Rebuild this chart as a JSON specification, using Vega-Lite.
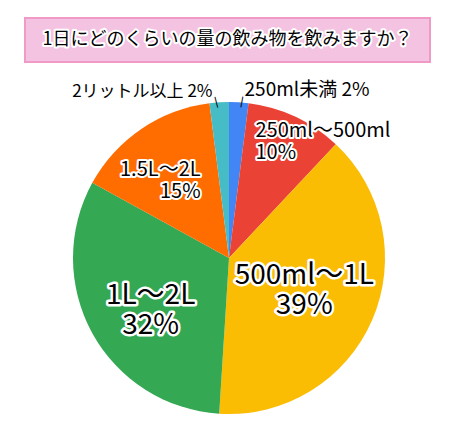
{
  "$schema": "https://vega.github.io/schema/vega-lite/v6.json",
  "padding": {"left": 24, "top": 17, "right": 0, "bottom": 0},
  "bounds": "flush",
  "spacing": 30,
  "config": {
    "view": {"stroke": null},
    "text": {"font": "Noto Sans CJK JP"}
  },
  "vconcat": [
    {
      "width": 405,
      "height": 44,
      "view": {"fill": "#f4c3e1", "stroke": "#f09ac7", "strokeWidth": 2},
      "data": {"values": [{"title": "1日にどのくらいの量の飲み物を飲みますか？"}]},
      "layer": [
        {
          "mark": {"type": "text", "fontSize": 18, "stroke": "white", "strokeWidth": 4, "strokeJoin": "round", "fill": "white", "dx": 0},
          "encoding": {"text": {"field": "title"}}
        },
        {
          "mark": {"type": "text", "fontSize": 18, "fill": "black", "dx": 0},
          "encoding": {"text": {"field": "title"}}
        }
      ]
    },
    {
      "width": 408,
      "height": 332,
      "data": {
        "values": [
          {"category": "250ml未満", "percent": 2, "rank": 1},
          {"category": "250ml～500ml", "percent": 10, "rank": 2},
          {"category": "500ml～1L", "percent": 39, "rank": 3},
          {"category": "1L～2L", "percent": 32, "rank": 4},
          {"category": "1.5L～2L", "percent": 15, "rank": 5},
          {"category": "2リットル以上", "percent": 2, "rank": 6}
        ]
      },
      "encoding": {
        "theta": {"field": "percent", "type": "quantitative", "stack": true},
        "order": {"field": "rank", "type": "quantitative"},
        "detail": {"field": "category", "type": "nominal"}
      },
      "layer": [
        {
          "mark": {"type": "arc", "outerRadius": 156},
          "encoding": {
            "color": {
              "field": "category",
              "type": "nominal",
              "scale": {
                "domain": ["250ml未満", "250ml～500ml", "500ml～1L", "1L～2L", "1.5L～2L", "2リットル以上"],
                "range": ["#4285f4", "#ea4335", "#fbbc04", "#34a853", "#ff6d01", "#46bdc6"]
              },
              "legend": null
            }
          }
        },
        {
          "transform": [{"calculate": "datum.category == '2リットル以上' ? '|' : ''", "as": "t"}],
          "mark": {"type": "text", "font": "DejaVu Sans", "fontSize": 11, "radius": 157, "dx": -3, "angle": -15, "fill": "black"},
          "encoding": {"text": {"field": "t"}}
        },
        {
          "transform": [{"calculate": "datum.category == '250ml未満' ? '|' : ''", "as": "t"}],
          "mark": {"type": "text", "font": "DejaVu Sans", "fontSize": 11, "radius": 157, "dx": 3, "angle": 10, "fill": "black"},
          "encoding": {"text": {"field": "t"}}
        },
        {
          "transform": [{"calculate": "datum.category == '2リットル以上' ? datum.category + ' ' + datum.percent + '%' : ''", "as": "t"}],
          "mark": {"type": "text", "fontSize": 17, "radius": 167, "dx": -6, "dy": 1, "align": "right", "fill": "black"},
          "encoding": {"text": {"field": "t"}}
        },
        {
          "transform": [{"calculate": "datum.category == '250ml未満' ? datum.category + ' ' + datum.percent + '%' : ''", "as": "t"}],
          "mark": {"type": "text", "fontSize": 19, "radius": 168, "dx": 5, "align": "left", "fill": "black"},
          "encoding": {"text": {"field": "t"}}
        },
        {
          "transform": [{"calculate": "datum.category == '250ml～500ml' ? datum.category + '\\n' + datum.percent + '%' : ''", "as": "t"}],
          "mark": {"type": "text", "fontSize": 20, "lineHeight": 22, "lineBreak": "\n", "radius": 128, "dx": -28, "dy": -11, "align": "left", "stroke": "white", "strokeWidth": 4, "strokeJoin": "round", "fill": "white"},
          "encoding": {"text": {"field": "t"}}
        },
        {
          "transform": [{"calculate": "datum.category == '250ml～500ml' ? datum.category + '\\n' + datum.percent + '%' : ''", "as": "t"}],
          "mark": {"type": "text", "fontSize": 20, "lineHeight": 22, "lineBreak": "\n", "radius": 128, "dx": -28, "dy": -11, "align": "left", "fill": "black"},
          "encoding": {"text": {"field": "t"}}
        },
        {
          "transform": [{"calculate": "datum.category == '1.5L～2L' ? datum.category + '\\n' + datum.percent + '%' : ''", "as": "t"}],
          "mark": {"type": "text", "fontSize": 20, "lineHeight": 22, "lineBreak": "\n", "radius": 95, "dx": 25, "dy": -9, "align": "right", "stroke": "white", "strokeWidth": 4, "strokeJoin": "round", "fill": "white"},
          "encoding": {"text": {"field": "t"}}
        },
        {
          "transform": [{"calculate": "datum.category == '1.5L～2L' ? datum.category + '\\n' + datum.percent + '%' : ''", "as": "t"}],
          "mark": {"type": "text", "fontSize": 20, "lineHeight": 22, "lineBreak": "\n", "radius": 95, "dx": 25, "dy": -9, "align": "right", "fill": "black"},
          "encoding": {"text": {"field": "t"}}
        },
        {
          "transform": [{"calculate": "datum.category == '500ml～1L' ? datum.category + '\\n' + datum.percent + '%' : ''", "as": "t"}],
          "mark": {"type": "text", "fontSize": 28, "lineHeight": 30, "lineBreak": "\n", "radius": 82, "dy": -15, "stroke": "white", "strokeWidth": 5, "strokeJoin": "round", "fill": "white"},
          "encoding": {"text": {"field": "t"}}
        },
        {
          "transform": [{"calculate": "datum.category == '500ml～1L' ? datum.category + '\\n' + datum.percent + '%' : ''", "as": "t"}],
          "mark": {"type": "text", "fontSize": 28, "lineHeight": 30, "lineBreak": "\n", "radius": 82, "dy": -15, "fill": "black"},
          "encoding": {"text": {"field": "t"}}
        },
        {
          "transform": [{"calculate": "datum.category == '1L～2L' ? datum.category + '\\n' + datum.percent + '%' : ''", "as": "t"}],
          "mark": {"type": "text", "fontSize": 28, "lineHeight": 30, "lineBreak": "\n", "radius": 94, "dx": 4, "dy": -7, "stroke": "white", "strokeWidth": 5, "strokeJoin": "round", "fill": "white"},
          "encoding": {"text": {"field": "t"}}
        },
        {
          "transform": [{"calculate": "datum.category == '1L～2L' ? datum.category + '\\n' + datum.percent + '%' : ''", "as": "t"}],
          "mark": {"type": "text", "fontSize": 28, "lineHeight": 30, "lineBreak": "\n", "radius": 94, "dx": 4, "dy": -7, "fill": "black"},
          "encoding": {"text": {"field": "t"}}
        }
      ]
    }
  ]
}
